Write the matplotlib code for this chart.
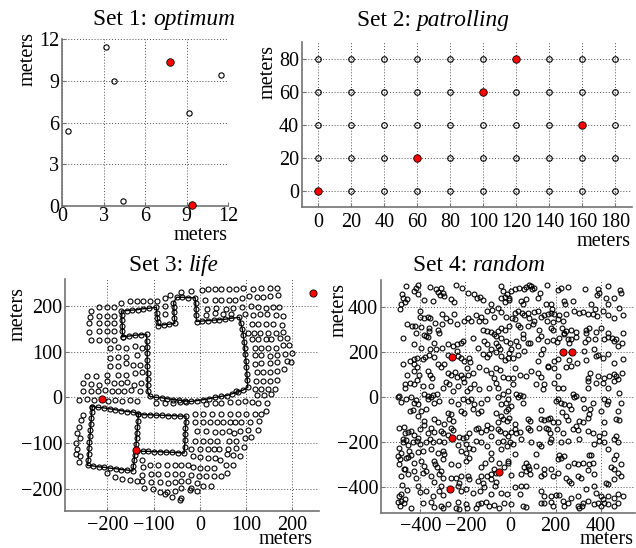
import matplotlib
matplotlib.use('Agg')
import matplotlib.pyplot as plt
import numpy as np

plt.rcParams['font.family'] = ['Liberation Serif', 'DejaVu Serif']
plt.rcParams['axes.unicode_minus'] = True

# ---------------- data ----------------
# Set 1: optimum
set1_open_x = [0.43, 3.17, 3.74, 4.42, 9.19, 11.52]
set1_open_y = [5.42, 11.42, 9.0, 0.34, 6.67, 9.38]
set1_red_x = [7.78, 9.43]
set1_red_y = [10.34, 0.10]
set1_ticks = [0, 3, 6, 9, 12]

# Set 2: patrolling (grid of sites)
set2_cols = [0, 20, 40, 60, 80, 100, 120, 140, 160, 180]
set2_rows = [0, 20, 40, 60, 80]
set2_red_x = [0, 60, 100, 120, 160]
set2_red_y = [0, 20, 60, 80, 40]
set2_xticks = [0, 20, 40, 60, 80, 100, 120, 140, 160, 180]
set2_yticks = [0, 20, 40, 60, 80]

# Set 3: life  (survey points)
set3_grid = [
    (-41,230),(-19,232),(4,236),(18,237),(32,237),(47,237),(63,238),(79,238),(94,239),(115,238),(133,239),(151,240),(167,240),
    (11,214),(33,212),(47,213),(63,214),(76,214),(92,217),(107,221),(123,219),(136,219),(152,221),(170,224),
    (16,193),(35,195),(56,194),(72,195),(92,197),(110,199),(126,198),(143,196),(159,197),(172,198),
    (14,181),(32,184),(50,182),(68,183),(97,182),(115,181),(130,182),(146,182),(164,181),(181,178),
    (112,160),(126,160),(143,161),(159,160),(177,158),
    (105,141),(117,141),(131,140),(148,141),(165,141),(180,142),
    (112,127),(126,128),(143,127),(155,128),(173,129),(188,130),
    (119,108),(133,108),(148,108),(166,109),(180,114),(193,115),
    (119,92),(133,92),(152,90),(168,93),(184,95),(200,98),
    (119,74),(133,75),(152,75),(168,77),(188,79),(198,78),
    (123,55),(136,55),(152,55),(168,57),(182,62),
    (121,35),(136,36),(152,36),(168,38),
    (79,13),(119,18),(133,19),(148,19),(162,19),
    (123,6),(139,6),(155,8),
    (14,-14),(32,-13),(47,-12),(65,-11),(83,-10),(97,-9),(112,-10),(126,-12),(146,-12),
    (-11,-36),(7,-36),(27,-36),(47,-36),(65,-36),(83,-36),(101,-36),(119,-36),(133,-36),(144,-29),
    (-11,-54),(6,-54),(23,-54),(38,-54),(51,-54),(65,-54),(76,-54),(90,-54),(108,-53),(128,-51),
    (-7,-73),(14,-74),(32,-76),(49,-76),(64,-74),(74,-78),(88,-74),(105,-71),(126,-71),
    (-11,-95),(7,-95),(23,-95),(38,-96),(64,-96),(79,-95),(97,-90),(110,-87),
    (-18,-112),(0,-112),(18,-114),(30,-114),(42,-114),(61,-114),(78,-111),(95,-109),
    (-15,-129),(0,-131),(18,-133),(32,-133),(43,-136),(58,-125),(72,-127),(87,-129),
    (-15,-153),(0,-155),(16,-155),(30,-155),(56,-149),(72,-149),
    (-18,-169),(-2,-171),(14,-173),(30,-173),(47,-171),(58,-166),
    (-6,-187),(7,-195),(25,-193),(-18,-199),(-7,-205),
    (-94,-13),(-76,-13),(-58,-12),(-43,-11),(-29,-11),
    (-108,-149),(-90,-149),(-72,-149),(-54,-149),(-40,-149),(-25,-149),
    (-106,-168),(-90,-168),(-72,-168),(-54,-168),(-38,-168),
    (-105,-185),(-87,-186),(-69,-187),(-54,-185),(-40,-184),(-25,-184),
    (-101,-200),(-87,-206),(-72,-207),(-54,-204),(-40,-198),(-22,-202),
    (-76,-212),(-61,-217),(-40,-220),(-43,-224),
    (-125,-136),(-124,-153),(-125,-169),(-126,-184),(-120,-198),
    (-200,-165),(-184,-175),(-168,-178),(-152,-180),(-137,-184),
    (-195,109),(-177,110),(-159,109),(-141,112),(-125,109),
    (-195,87),(-177,89),(-159,89),(-137,92),
    (-195,68),(-177,68),(-159,75),(-144,71),(-130,70),
    (-245,46),(-224,47),(-200,50),(-177,50),(-159,50),(-141,53),(-125,56),
    (-253,31),(-235,29),(-218,28),(-202,35),(-186,31),(-171,31),(-157,33),(-143,28),(-128,31),
    (-253,14),(-235,14),(-220,14),(-205,16),(-191,14),(-177,14),(-164,14),(-148,16),(-130,14),
    (-262,-5),(-245,-3),(-230,-5),(-199,-7),(-184,-5),(-168,-8),(-152,-5),(-137,-8),
    (-254,-39),(-258,-50),(-262,-64),(-266,-78),(-260,-88),(-268,-100),(-266,-112),(-268,-125),(-260,-128),(-262,-141),
    (-236,190),(-238,176),(-240,162),(-240,143),(-236,126),
    (-219,198),(-219,179),(-219,162),(-219,145),(-219,126),
    (-201,198),(-201,179),(-201,162),(-201,145),(-201,126),
    (-185,198),(-185,179),(-185,162),(-185,145),(-185,126),
    (-171,206),(-152,211),(-137,210),(-123,210),(-108,211),(-92,211),(-76,217),(-65,225),
    (-76,200),(-76,182),
]
# paths walked (with sample points along them)
set3_path_a = [
    (-167,133),(-168,145),(-168,157),(-169,169),(-169,180),(-170,189),
    (-158,190),(-146,191),(-134,192),(-122,194),(-110,195),(-94,197),
    (-93,185),(-92,173),(-91,165),(-90,157),
    (-78,159),(-66,160),(-54,162),
    (-55,174),(-56,186),(-56,197),(-57,207),
    (-50,219),(-38,219),(-26,218),(-10,218),
    (-9,206),(-8,194),(-8,180),(-7,166),
    (5,167),(18,168),(30,169),(42,170),(55,171),(67,173),(86,175),
    (89,162),(92,150),(94,137),
    (96,122),(97,108),(98,95),(100,80),(101,66),(102,52),(103,37),(104,22),
    (94,16),(82,12),(70,8),(58,4),
    (45,2),(33,0),(20,-3),(8,-5),(-5,-7),(-20,-9),
    (-33,-8),(-45,-6),(-57,-5),(-70,-3),(-82,-1),(-95,0),(-108,2),
    (-113,13),(-113,27),(-113,40),(-113,54),(-114,68),(-114,82),(-114,96),(-114,110),(-115,124),(-115,138),
    (-128,137),(-141,136),(-154,134),(-167,133),
]
set3_path_b = [
    (-233,-20),(-234,-33),(-235,-46),(-236,-59),(-237,-72),(-238,-85),(-239,-98),(-240,-111),(-241,-124),(-242,-137),(-243,-149),
    (-231,-150),(-219,-152),(-207,-153),(-194,-155),(-182,-156),(-170,-158),(-157,-159),(-145,-161),
    (-144,-150),(-142,-138),(-141,-126),(-139,-115),
    (-138,-103),(-137,-90),(-136,-77),(-135,-64),(-134,-51),(-133,-36),
    (-145,-32),(-158,-31),(-170,-29),(-183,-27),(-195,-25),(-208,-23),(-220,-22),(-233,-20),
]
set3_path_c = [
    (-133,-36),(-121,-38),(-108,-38),(-95,-39),(-82,-39),(-69,-40),(-56,-40),(-43,-41),(-30,-41),
    (-30,-54),(-31,-67),(-32,-80),(-32,-94),(-33,-108),(-34,-122),
    (-47,-121),(-60,-120),(-73,-120),(-86,-119),(-99,-119),(-112,-118),(-124,-118),(-137,-117),
]
set3_red_x = [-212, -139, 245]
set3_red_y = [-4, -115, 229]
set3_ticks = [-200, -100, 0, 100, 200]

# Set 4: random
set4_nw = [
    (-463,491),(-429,469),(-419,484),(-412,495),(-357,487),(-330,476),(-320,466),(-308,484),(-301,461),(-314,451),(-294,447),(-242,495),(-217,481),(-187,461),(-161,454),(-134,442),(-150,436),(-43,491),(-35,469),(-16,457),(-25,442),
    (-482,457),(-478,436),(-459,432),(-485,412),(-468,421),(-412,454),(-382,427),(-345,424),(-264,433),(-252,421),(-124,427),(-87,410),(-40,439),(-25,421),(-6,436),
    (-488,387),(-400,380),(-400,353),(-385,347),(-367,353),(-356,347),(-305,368),(-286,350),(-267,338),(-252,368),(-208,338),(-187,350),(-175,338),(-153,362),(-131,353),(-139,335),(-102,380),(-84,386),(-54,392),(-43,377),(-22,353),(-72,353),(-113,335),
    (-459,321),(-438,313),(-423,313),(-397,309),(-360,306),(-335,328),(-305,321),(-237,321),(-124,294),(-105,291),(-87,288),(-72,279),(-57,291),(-43,306),(-25,294),(-419,284),(-375,269),(-360,291),(-320,298),(-316,284),(-478,261),
    (-385,272),(-367,264),(-338,239),(-305,217),(-279,235),(-257,224),(-220,239),(-212,247),(-237,232),(-168,261),(-146,214),(-116,247),(-105,232),(-87,210),(-65,239),(-54,224),(-46,210),(-40,261),(-65,269),(-21,247),(-426,232),(-397,217),(-356,210),(-330,210),
    (-478,146),(-444,158),(-429,165),(-426,146),(-415,173),(-389,165),(-379,176),(-360,184),(-338,176),(-320,146),(-294,146),(-279,184),(-237,202),(-232,180),(-220,170),(-208,158),(-178,155),(-124,190),(-105,176),(-94,190),(-65,199),(-43,180),(-25,161),(-13,173),(-183,173),
    (-459,98),(-426,113),(-415,131),(-404,96),(-367,113),(-356,96),(-350,81),(-308,131),(-279,106),(-264,96),(-246,110),(-237,87),(-220,98),(-212,84),(-193,125),(-187,98),(-168,106),(-139,131),(-109,116),(-87,106),(-65,125),(-46,116),(-31,87),(-13,84),(-72,81),
    (-468,57),(-468,39),(-444,60),(-426,57),(-415,72),(-389,47),(-382,10),(-353,47),(-326,13),(-301,39),(-286,66),(-271,54),(-257,24),(-234,47),(-208,66),(-193,24),(-178,39),(-161,54),(-139,32),(-94,39),(-65,61),(-54,39),(-35,10),(-13,24),(-493,2),(-367,2),(-345,7),
]
set4_ne = [
    (3,469),(20,476),(39,484),(59,476),(69,487),(80,495),(91,491),(94,476),(106,481),(133,461),(162,495),(209,472),(224,481),(257,487),(330,476),(387,476),(394,461),(384,451),(431,491),(460,439),(485,472),(492,462),
    (-5,427),(47,424),(54,412),(69,432),(121,439),(158,412),(180,410),(236,424),(242,412),(276,424),(357,410),(375,387),(423,439),(434,410),(482,395),
    (18,373),(32,380),(50,373),(59,362),(77,373),(103,377),(121,380),(136,353),(147,362),(168,365),(180,373),(183,387),(192,368),(217,362),(246,365),(283,380),(305,373),(320,377),(342,365),(364,365),(384,358),(409,380),(431,362),(460,350),(497,362),(6,350),(18,343),(80,347),(106,335),(162,338),(187,333),(209,343),(232,338),
    (-5,313),(32,318),(40,309),(77,313),(99,321),(128,294),(180,306),(187,294),(227,306),(236,284),(246,291),(268,298),(291,288),(335,298),(350,306),(335,284),(379,288),(401,306),(431,284),(497,284),(54,279),(136,269),
    (25,247),(32,224),(54,261),(77,239),(88,239),(121,254),(143,210),(162,247),(187,250),(206,244),(217,261),(236,276),(254,254),(261,239),(268,258),(291,264),(330,244),(342,254),(375,258),(416,254),(431,264),(449,261),(457,247),(468,254),(495,239),(475,224),(0,239),(3,210),
    (-5,195),(10,173),(32,184),(62,202),(121,158),(136,187),(165,135),(195,158),(209,165),(261,161),(295,150),(328,202),(335,161),(372,210),(379,180),(389,184),(409,173),(431,187),(460,150),(497,165),
    (18,128),(10,84),(40,98),(69,91),(91,113),(121,106),(136,87),(165,131),(195,125),(209,91),(246,131),(268,135),(342,84),(354,106),(387,91),(416,84),(438,91),(457,101),(468,91),(475,76),(495,106),
    (10,54),(25,10),(40,7),(54,2),(113,54),(143,32),(150,54),(195,61),(209,39),(232,39),(276,10),(291,2),(342,69),(342,39),(379,61),(409,61),(431,39),(460,69),(482,17),
]
set4_sw = [
    (-500,-4),(-485,-24),(-463,-12),(-441,-4),(-426,-27),(-419,-15),(-412,-34),(-367,-12),(-353,-4),(-338,-27),(-316,-19),(-264,-19),(-232,-34),(-212,-12),(-187,-19),(-173,-9),(-161,-34),(-131,-27),(-105,-12),(-57,-4),(-43,-34),(-21,-27),(-13,-9),(-444,-64),(-434,-59),(-397,-64),(-375,-53),
    (-493,-138),(-471,-133),(-412,-86),(-385,-108),(-382,-127),(-353,-138),(-338,-101),(-323,-113),(-279,-71),(-264,-78),(-271,-101),(-257,-108),(-220,-64),(-205,-74),(-168,-56),(-146,-71),(-131,-64),(-65,-74),(-43,-86),(-31,-101),(-21,-64),(-16,-108),(-54,-113),(-102,-127),(-146,-138),(-294,-123),(-264,-138),
    (-478,-187),(-468,-160),(-456,-157),(-441,-152),(-426,-172),(-412,-182),(-400,-145),(-367,-160),(-338,-157),(-308,-152),(-297,-163),(-279,-172),(-257,-148),(-227,-178),(-212,-182),(-198,-178),(-183,-163),(-153,-145),(-131,-157),(-109,-148),(-87,-138),(-57,-142),(-46,-152),(-25,-163),(-13,-175),(-87,-175),
    (-493,-227),(-478,-204),(-463,-192),(-453,-216),(-434,-204),(-415,-197),(-400,-212),(-375,-201),(-356,-187),(-345,-204),(-316,-197),(-294,-204),(-232,-216),(-198,-212),(-183,-227),(-153,-197),(-131,-204),(-105,-219),(-57,-204),(-35,-197),(-16,-219),(-485,-249),(-449,-241),(-441,-261),(-412,-246),(-389,-241),(-353,-234),(-323,-249),(-301,-241),(-294,-256),(-220,-241),(-198,-252),(-168,-234),(-87,-249),(-43,-231),
    (-500,-264),(-488,-278),(-463,-275),(-456,-267),(-426,-293),(-397,-286),(-382,-308),(-341,-286),(-335,-301),(-326,-311),(-301,-278),(-264,-301),(-232,-305),(-198,-286),(-183,-271),(-131,-315),(-113,-293),(-87,-278),(-72,-323),(-50,-293),(-28,-315),(-13,-286),(-493,-301),(-468,-320),(-308,-330),
    (-485,-352),(-471,-323),(-456,-345),(-426,-330),(-419,-364),(-389,-341),(-375,-330),(-353,-352),(-338,-379),(-316,-345),(-301,-360),(-264,-360),(-242,-364),(-227,-385),(-220,-352),(-187,-355),(-183,-367),(-146,-375),(-131,-355),(-105,-352),(-87,-345),(-65,-341),(-87,-367),(-124,-385),(-65,-379),
    (-482,-394),(-459,-415),(-485,-434),(-493,-441),(-468,-453),(-409,-397),(-400,-424),(-375,-419),(-345,-441),(-316,-419),(-308,-397),(-297,-438),(-234,-397),(-220,-419),(-198,-412),(-168,-427),(-134,-419),(-116,-400),(-87,-434),(-43,-427),(-16,-434),(-69,-397),
    (-500,-468),(-485,-464),(-474,-471),(-488,-486),(-441,-493),(-389,-471),(-353,-468),(-338,-489),(-308,-486),(-301,-497),(-279,-478),(-234,-468),(-227,-498),(-198,-478),(-153,-493),(-146,-478),(-131,-471),(-109,-468),(-94,-486),(-72,-483),(-50,-493),(-28,-471),(-193,-497),(-242,-497),
]
set4_se = [
    (-9,-56),(3,-41),(32,-4),(54,-27),(136,-59),(202,-19),(209,-12),(224,-27),(239,-34),(261,-38),(268,-56),(283,-4),(320,-12),(325,-49),(354,-56),(364,-27),(416,-12),(428,-34),(431,-19),(475,-64),(490,-27),
    (-5,-93),(18,-123),(77,-98),(88,-108),(136,-101),(150,-104),(165,-101),(177,-93),(187,-115),(209,-115),(227,-68),(246,-86),(254,-104),(291,-130),(305,-108),(320,-115),(342,-93),(350,-78),(416,-113),(468,-101),(482,-104),(401,-64),
    (3,-157),(18,-145),(25,-163),(40,-157),(77,-138),(88,-148),(128,-138),(158,-138),(165,-145),(177,-160),(206,-145),(232,-160),(276,-145),(298,-148),(342,-152),(364,-160),(394,-175),(416,-160),(468,-175),(0,-204),
    (10,-212),(47,-190),(91,-201),(128,-212),(136,-219),(173,-204),(180,-190),(224,-204),(254,-197),(305,-190),(372,-212),(394,-197),(416,-204),(460,-190),(475,-204),(431,-234),(468,-261),(460,-278),(18,-256),(113,-256),(217,-261),(239,-264),(350,-261),(357,-261),
    (209,-278),(224,-271),(254,-308),(283,-293),(298,-301),(320,-293),(350,-301),(364,-293),(445,-315),(460,-323),(490,-301),(69,-293),(77,-308),(84,-323),(62,-315),(150,-320),(180,-320),(-12,-293),(113,-308),
    (3,-349),(47,-345),(69,-330),(88,-345),(136,-352),(150,-345),(187,-352),(209,-338),(246,-360),(261,-375),(268,-382),(298,-352),(312,-360),(342,-326),(372,-345),(423,-382),(431,-390),(460,-367),(475,-341),(490,-352),
    (18,-404),(40,-434),(47,-397),(69,-397),(136,-419),(150,-441),(180,-444),(202,-438),(217,-438),(268,-449),(298,-441),(335,-412),(379,-429),(401,-441),(409,-456),(431,-441),(460,-449),(475,-434),(497,-441),(372,-397),
    (3,-478),(54,-486),(69,-489),(136,-471),(150,-471),(180,-468),(187,-486),(232,-464),(239,-486),(254,-471),(298,-486),(305,-493),(315,-486),(320,-471),(342,-464),(369,-478),(387,-471),(401,-486),(416,-471),(431,-478),(460,-486),(475,-471),
]
set4_red_x = [-260, 233, 273, -259, -50, -269]
set4_red_y = [175, 196, 200, -183, -336, -410]
set4_ticks = [-400, -200, 0, 200, 400]

# ---------------- drawing ----------------
W, H = 636, 548
fig = plt.figure(figsize=(W/100, H/100), dpi=100)
renderer = fig.canvas.get_renderer()

def px_axes(l, t, r, b):
    return fig.add_axes([l/W, 1 - b/H, (r-l)/W, (b-t)/H])

AXCOL = '0.45'
def style(ax, xlim, ylim, xt, yt, xpad, ypad=2.0):
    ax.set_xlim(xlim); ax.set_ylim(ylim)
    ax.set_xticks(xt); ax.set_yticks(yt)
    ax.grid(True, linestyle=(0, (1, 2)), color='0.3', linewidth=0.7)
    ax.set_axisbelow(True)
    for s in ['top', 'right']:
        ax.spines[s].set_visible(False)
    for s in ['left', 'bottom']:
        ax.spines[s].set_color(AXCOL)
        ax.spines[s].set_linewidth(1.2)
    ax.tick_params(direction='in', length=3, color=AXCOL, labelsize=14.5)
    ax.tick_params(axis='x', pad=xpad)
    ax.tick_params(axis='y', pad=ypad)

def open_pts(ax, x, y, ms, mew=0.8):
    ax.plot(x, y, 'o', ms=ms, mfc='none', mec='black', mew=mew, linestyle='none', clip_on=False, zorder=3)

def red_pts(ax, x, y, ms):
    ax.plot(x, y, 'o', ms=ms, mfc='red', mec='black', mew=0.6, linestyle='none', clip_on=False, zorder=5)

# Set 1
ax1 = px_axes(62, 39, 228, 206)
style(ax1, (0, 12), (0, 12), set1_ticks, set1_ticks, xpad=1.0)
open_pts(ax1, set1_open_x, set1_open_y, 3.8)
red_pts(ax1, set1_red_x, set1_red_y, 5.4)

# Set 2
ax2 = px_axes(301.7, 42.3, 631.7, 207)
style(ax2, (-10, 190), (-10, 90), set2_xticks, set2_yticks, xpad=4.0)
gx, gy = np.meshgrid(set2_cols, set2_rows)
open_pts(ax2, gx.ravel(), gy.ravel(), 4.0)
red_pts(ax2, set2_red_x, set2_red_y, 5.4)

# Set 3
ax3 = px_axes(65, 279, 318.9, 510.7)
style(ax3, (-292, 258), (-248, 259), set3_ticks, set3_ticks, xpad=3.5)
for path in (set3_path_a, set3_path_b, set3_path_c):
    px_, py_ = zip(*path)
    ax3.plot(px_, py_, '-', color='black', lw=1.0, zorder=2)
    open_pts(ax3, px_, py_, 3.6, 0.8)
g3x, g3y = zip(*set3_grid)
open_pts(ax3, g3x, g3y, 3.6, 0.8)
red_pts(ax3, set3_red_x, set3_red_y, 5.2)

# Set 4
ax4 = px_axes(381, 280, 635, 512.7)
style(ax4, (-574, 552), (-516, 518), set4_ticks, set4_ticks, xpad=3.0)
s4 = set4_nw + set4_ne + set4_sw + set4_se
s4x, s4y = zip(*s4)
open_pts(ax4, s4x, s4y, 3.5, 0.8)
red_pts(ax4, set4_red_x, set4_red_y, 5.2)

def ftext(x, y, s, **kw):
    return fig.text(x/W, 1 - y/H, s, **kw)

# titles: normal part + italic part, centred as a whole
TS = 16.8
def title(cx, base, normal, italic):
    t1 = ftext(0, base, normal, ha='left', va='baseline', fontsize=TS)
    t2 = ftext(0, base, italic, ha='left', va='baseline', fontsize=TS, style='italic')
    w1 = t1.get_window_extent(renderer).width
    w2 = t2.get_window_extent(renderer).width
    sp = 0.25 * TS * 100 / 72
    x0 = cx - (w1 + sp + w2) / 2
    t1.set_position((x0 / W, 1 - base / H))
    t2.set_position(((x0 + w1 + sp) / W, 1 - base / H))

title(164, 25, 'Set 1:', 'optimum')
title(433, 26, 'Set 2:', 'patrolling')
title(174, 271, 'Set 3:', 'life')
title(479, 271, 'Set 4:', 'random')

# axis labels
LS = 14.6
ftext(228, 239.5, 'meters', ha='right', va='baseline', fontsize=LS)
ftext(631, 245.5, 'meters', ha='right', va='baseline', fontsize=LS)
ftext(313, 543.5, 'meters', ha='right', va='baseline', fontsize=LS)
ftext(634, 543.5, 'meters', ha='right', va='baseline', fontsize=LS)
ftext(28, 59, 'meters', rotation=90, ha='center', va='center', fontsize=LS)
ftext(268, 72, 'meters', rotation=90, ha='center', va='center', fontsize=LS)
ftext(18, 314, 'meters', rotation=90, ha='center', va='center', fontsize=LS)
ftext(339, 310, 'meters', rotation=90, ha='center', va='center', fontsize=LS)

fig.savefig('out.png', dpi=100)
